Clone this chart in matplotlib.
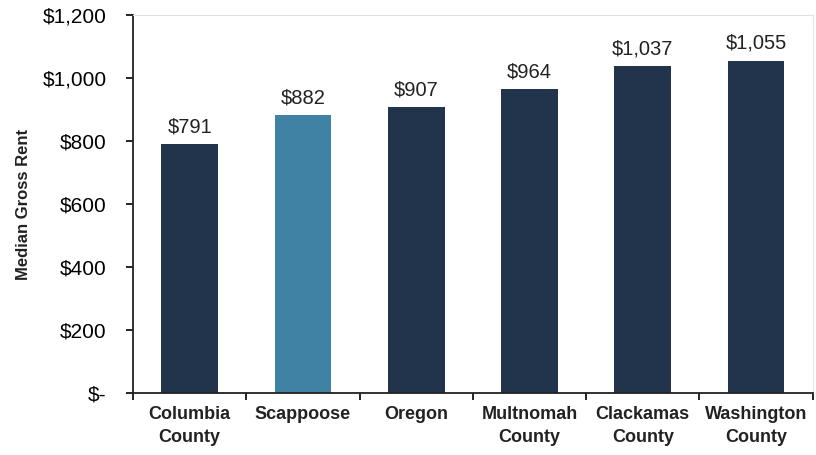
import matplotlib.pyplot as plt
from matplotlib.ticker import FuncFormatter

places = ["Columbia\nCounty", "Scappoose", "Oregon", "Multnomah\nCounty",
          "Clackamas\nCounty", "Washington\nCounty"]
rent = [791, 882, 907, 964, 1037, 1055]
colors = ["#22344b", "#3f82a3", "#22344b", "#22344b", "#22344b", "#22344b"]

plt.rcParams["font.family"] = ["Liberation Sans", "DejaVu Sans"]

fig = plt.figure(figsize=(8.16, 4.55), dpi=100)
ax = fig.add_axes([0.163, 0.136, 0.833, 0.831])

x = range(len(places))
ax.bar(x, rent, width=0.5, color=colors)
for i, v in enumerate(rent):
    ax.text(i, v + 25, f"${v:,}", ha="center", va="bottom", fontsize=14.5, color="#222222")

ax.set_xlim(-0.5, len(places) - 0.5)
ax.set_ylim(0, 1200)
ax.set_yticks(range(0, 1201, 200))
ax.yaxis.set_major_formatter(FuncFormatter(lambda v, p: "$-" if v == 0 else f"${v:,.0f}"))
ax.set_xticks([i - 0.5 for i in range(len(places) + 1)], [""] * (len(places) + 1))
ax.set_xticks(list(x), places, minor=True)
ax.tick_params(axis="x", which="minor", length=0, pad=9, labelsize=13)
for lbl in ax.get_xticklabels(minor=True):
    lbl.set_fontweight("bold")
    lbl.set_color("#222222")
    lbl.set_linespacing(1.5)
ax.tick_params(axis="x", which="major", length=5, direction="out", width=1.2)
ax.tick_params(axis="y", length=5, direction="out", width=1.2, labelsize=15, pad=14)
ax.set_ylabel("Median Gross Rent", fontsize=12, fontweight="bold", color="#222222", labelpad=8)

for s in ["top", "right"]:
    ax.spines[s].set_color("#e2e2e2")
for s in ["left", "bottom"]:
    ax.spines[s].set_color("#222222")
    ax.spines[s].set_linewidth(1.3)

fig.savefig("out.png", dpi=100)
